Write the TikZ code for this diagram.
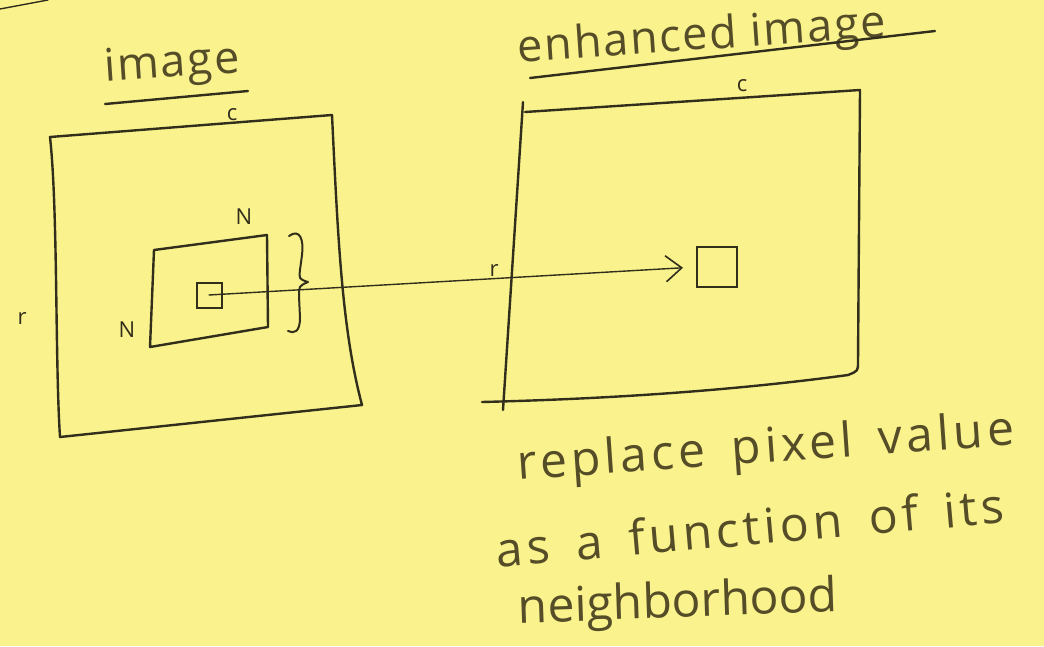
\documentclass[tikz,border=0pt]{standalone}
\usepackage{fontspec}
\setmainfont{Open Sans}
% loosely set faces for the handwritten-looking lines
\newfontfamily\loosehand[LetterSpace=8.5,WordSpace=1.6]{Open Sans}
\newfontfamily\titlehand[LetterSpace=4]{Open Sans}
\usetikzlibrary{arrows.meta}
\definecolor{paper}{RGB}{250,242,140}
\definecolor{ink}{RGB}{50,46,28}
\definecolor{pencil}{RGB}{85,76,40}
\begin{document}
\begin{tikzpicture}[x=1pt,y=-1pt,
  outline/.style={draw=ink, line width=2.4pt, line join=round, line cap=round},
  stroke/.style={draw=ink, line width=1.4pt, line cap=round, line join=round},
  pixel/.style={draw=ink, line width=2pt, inner sep=0pt, minimum width=#1, minimum height=#1},
  big/.style={text=pencil, font=\fontsize{48}{50}\selectfont, inner sep=0pt},
  heading/.style={text=pencil, font=\titlehand\fontsize{45}{48}\selectfont, inner sep=0pt},
  loose/.style={text=pencil, font=\loosehand\fontsize{48}{50}\selectfont, inner sep=0pt},
  small/.style={text=ink, font=\fontsize{22}{24}\selectfont, inner sep=0pt}
]
\fill[paper] (0,0) rectangle (1044,646);
\useasboundingbox (0,0) rectangle (1044,646);

% stray stroke at the top edge
\draw[stroke] (0,9) -- (48,0);

% titles with their underlines
\node[heading, rotate=4] (title1) at (172,66) {image};
\draw[outline] (105,104) -- (248,91);
\node[small] (c1) at (232,115) {c};

\node[heading, rotate=4] (title2) at (702,38) {enhanced image};
\draw[outline] (530,78) -- (935,31);
\node[small] (c2) at (742,86) {c};

% input image frame
\draw[outline] (50,137) -- (332,115)
  .. controls (338,240) and (342,330) .. (362,405)
  -- (60,437)
  .. controls (55,360) and (58,210) .. cycle;

% neighbourhood window
\draw[outline] (154,250) -- (267,235) -- (268,327) -- (150,347) -- cycle;
\node[small] (n1) at (244,217) {N};
\node[small] (n2) at (127,330) {N};
\node[small] (r1) at (22,318) {r};

% brace beside the window
\draw[stroke, line width=2pt] (289,236) .. controls (300,228) and (304,240) .. (302,255)
  -- (300,270) .. controls (299,279) .. (308,282)
  .. controls (299,286) .. (299,296) -- (300,318)
  .. controls (300,332) and (294,334) .. (288,331);

% output image frame
\draw[outline] (523,102) -- (503,410);
\draw[outline] (525,112) -- (860,90) -- (858,362)
  .. controls (858,371) .. (848,375)
  .. controls (700,395) and (560,400) .. (482,402);
\node[small] (r2) at (494,270) {r};

% source and target pixels
\node[pixel=25pt] (src) at (209,295) {};
\node[pixel=40pt] (dst) at (717,267) {};
\draw[stroke, -{Straight Barb[length=16pt,width=26pt,line width=1.6pt]}, shorten >=13pt]
  (src.center) -- (dst.west);

% caption
\node[loose, rotate=4] (cap1) at (766,450) {replace pixel value};
\node[loose, rotate=5] (cap2) at (750,527) {as a function of its};
\node[big, rotate=2] (cap3) at (678,605) {neighborhood};
\end{tikzpicture}
\end{document}
